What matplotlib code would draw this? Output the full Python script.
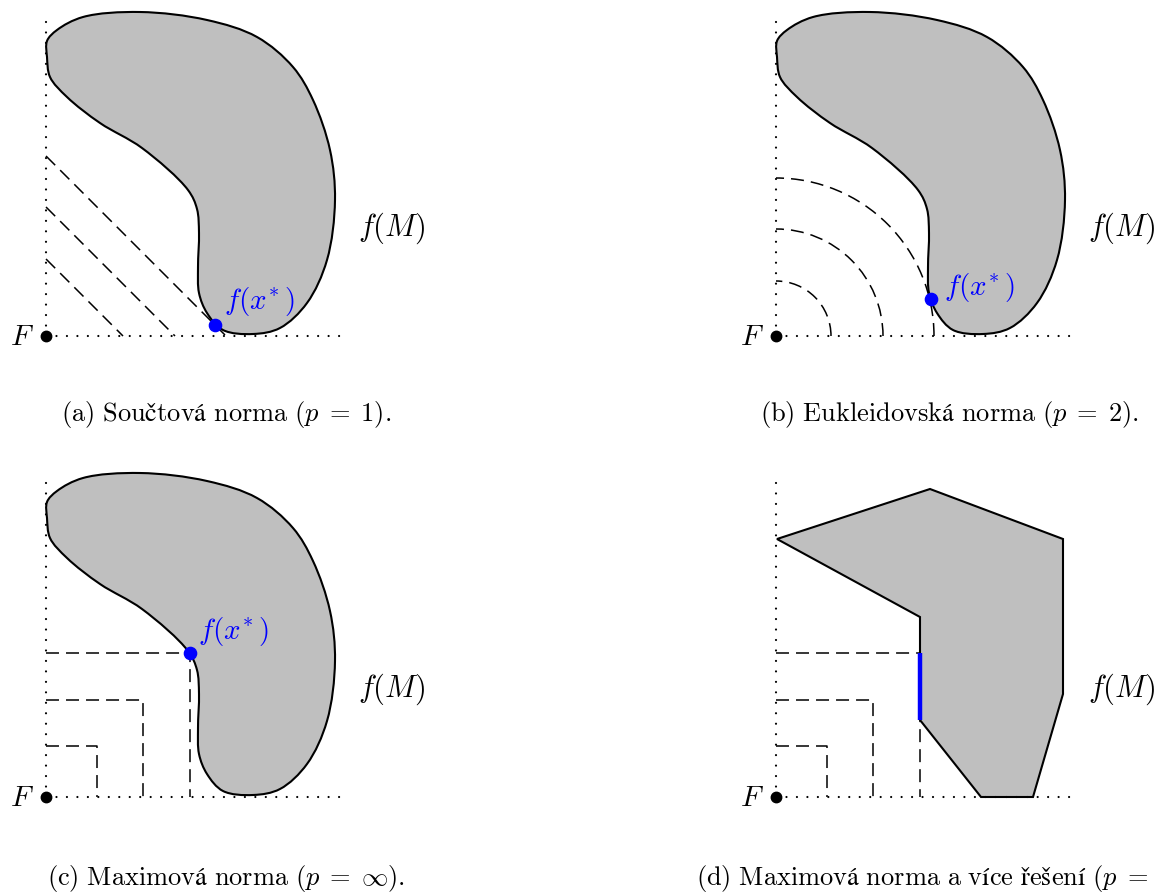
import numpy as np
import matplotlib
matplotlib.use("Agg")
import matplotlib.pyplot as plt
import matplotlib.transforms as mtransforms
from matplotlib.path import Path
from matplotlib.patches import PathPatch, Arc, Polygon

plt.rcParams['mathtext.fontset'] = 'cm'

# --- data (local coordinates of each panel, origin = ideal point F, y up) ---
blob_x = [1, 4, 21, 54, 96, 142, 151, 153, 152, 153, 161, 177, 207, 234,
          261, 281, 289, 284, 267, 247, 211, 161, 94, 37, 11, 1]
blob_y = [279, 259, 239, 213, 188, 146, 127, 103, 69, 43, 23, 6, 2, 8,
          33, 76, 136, 186, 236, 269, 299, 316, 324, 319, 306, 295]

poly_x = [1, 154, 287, 287, 257, 205, 144, 144]
poly_y = [258, 308, 258, 103, 0, 0, 77, 180]

l1_levels = [77, 129, 180]
l2_levels = [55, 107, 158]
linf_levels = [51, 97, 144]

opt_a = (169, 11)
opt_b = (155, 37)
opt_c = (144, 144)
seg_d_x = [144, 144]
seg_d_y = [77, 144]

axis_top = 324
axis_right = 299

captions = [
    r'$\mathrm{(a)\ Součtová\ norma\ }(p \;=\; 1).$',
    r'$\mathrm{(b)\ Eukleidovská\ norma\ }(p \;=\; 2).$',
    r'$\mathrm{(c)\ Maximová\ norma\ }(p \;=\; \infty).$',
    r'$\mathrm{(d)\ Maximová\ norma\ a\ více\ řešení\ }(p \;=\; \infty).$',
]

GRAY = '#bfbfbf'
BLUE = '#0000ff'
DASH = (8.5, 4.6)


def smooth_closed_path(xs, ys, alpha=0.5):
    """closed centripetal Catmull-Rom curve through the points, as Bezier path"""
    pts = np.column_stack([xs, ys]).astype(float)
    n = len(pts)
    verts = [pts[0]]
    codes = [Path.MOVETO]
    for i in range(n):
        p0, p1, p2, p3 = pts[i - 1], pts[i], pts[(i + 1) % n], pts[(i + 2) % n]
        d01 = np.linalg.norm(p1 - p0) ** alpha
        d12 = np.linalg.norm(p2 - p1) ** alpha
        d23 = np.linalg.norm(p3 - p2) ** alpha
        m1 = d12 * ((p1 - p0) / d01 - (p2 - p0) / (d01 + d12) + (p2 - p1) / d12)
        m2 = d12 * ((p2 - p1) / d12 - (p3 - p1) / (d12 + d23) + (p3 - p2) / d23)
        verts += [p1 + m1 / 3, p2 - m2 / 3, p2]
        codes += [Path.CURVE4] * 3
    verts.append(pts[0])
    codes.append(Path.CLOSEPOLY)
    return Path(verts, codes)


def draw_frame(ax, tr):
    ax.plot([0, 0], [0, axis_top], transform=tr, color='black', lw=1.6,
            linestyle=(0, (0.01, 4.7)), dash_capstyle='round', zorder=4)
    ax.plot([0, axis_right], [0, 0], transform=tr, color='black', lw=1.6,
            linestyle=(0, (0.01, 4.7)), dash_capstyle='round', zorder=4)
    ax.plot([0], [0], 'o', transform=tr, color='black', ms=7.5, zorder=6)
    ax.text(-24, -1, r'$F$', transform=tr, fontsize=21, ha='center', va='center')
    ax.text(346, 108, r'$f(M)$', transform=tr, fontsize=22, ha='center', va='center')


def draw_blob(ax, tr):
    ax.add_patch(PathPatch(smooth_closed_path(blob_x, blob_y), transform=tr,
                           facecolor=GRAY, edgecolor='black', lw=1.5, zorder=2))


def draw_squares(ax, tr):
    for s in linf_levels:
        ax.plot([0, s, s], [s, s, 0], transform=tr, color='black', lw=1.1,
                dashes=DASH, zorder=3)


fig = plt.figure(figsize=(11.6, 8.92), dpi=100)
ax = fig.add_axes([0, 0, 1, 1])
ax.set_xlim(0, 1160)
ax.set_ylim(892, 0)
ax.axis('off')

origins = [(46, 336), (776, 336), (46, 797), (776, 797)]
trs = [mtransforms.Affine2D().scale(1, -1).translate(ox, oy) + ax.transData
       for ox, oy in origins]

fx_label = r'$f(x^{\!*})$'

# (a) sum norm
tr = trs[0]
draw_blob(ax, tr)
for c in l1_levels:
    ax.plot([0, c], [c, 0], transform=tr, color='black', lw=1.1, dashes=DASH, zorder=3)
draw_frame(ax, tr)
ax.plot(*opt_a, 'o', transform=tr, color=BLUE, ms=8.8, zorder=7)
ax.text(213, 34, fx_label, transform=tr, fontsize=21, color=BLUE,
        ha='center', va='center')

# (b) euclidean norm
tr = trs[1]
draw_blob(ax, tr)
for r in l2_levels:
    ax.add_patch(Arc((0, 0), 2 * r, 2 * r, theta1=0, theta2=90, transform=tr,
                     color='black', lw=1.1, linestyle=(0, DASH), zorder=3))
draw_frame(ax, tr)
ax.plot(*opt_b, 'o', transform=tr, color=BLUE, ms=8.8, zorder=7)
ax.text(203, 48, fx_label, transform=tr, fontsize=21, color=BLUE,
        ha='center', va='center')

# (c) max norm
tr = trs[2]
draw_blob(ax, tr)
draw_squares(ax, tr)
draw_frame(ax, tr)
ax.plot(*opt_c, 'o', transform=tr, color=BLUE, ms=8.8, zorder=7)
ax.text(187, 166, fx_label, transform=tr, fontsize=21, color=BLUE,
        ha='center', va='center')

# (d) max norm, several solutions
tr = trs[3]
ax.add_patch(Polygon(np.column_stack([poly_x, poly_y]), closed=True, transform=tr,
                     facecolor=GRAY, edgecolor='black', lw=1.5, zorder=2))
draw_squares(ax, tr)
draw_frame(ax, tr)
ax.plot(seg_d_x, seg_d_y, transform=tr, color=BLUE, lw=3.2,
        solid_capstyle='butt', zorder=7)

cap_pos = [(226, 414), (949, 414), (226, 878), (949, 878)]
for (cx, cy), txt in zip(cap_pos, captions):
    ax.text(cx, cy, txt, fontsize=19, ha='center', va='center')

fig.savefig('out.png', dpi=100)
